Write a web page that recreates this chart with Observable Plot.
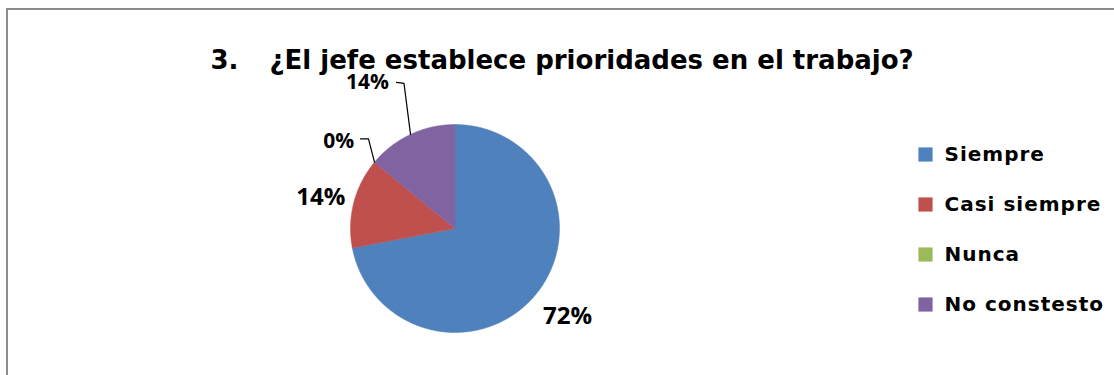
<!DOCTYPE html>
<html><head><meta charset="utf-8">
<script src="https://cdn.jsdelivr.net/npm/d3@7"></script>
<script src="https://cdn.jsdelivr.net/npm/@observablehq/plot@0.6"></script>
<style>
body{margin:0;background:#fff;}
#wrap{position:relative;width:1114px;height:375px;overflow:hidden;background:#fff;}
#border{position:absolute;left:6px;top:8px;width:1300px;height:600px;border-left:2px solid #8c8c8c;border-top:2px solid #8c8c8c;pointer-events:none;}
#wrap svg{position:absolute;left:0;top:0;}
</style></head><body><div id="wrap"><div id="border"></div></div>
<script>
const categories = ["Siempre", "Casi siempre", "Nunca", "No constesto"];
const percents = [72, 14, 0, 14];
const colors = ["#4F81BD", "#C0504D", "#9BBB59", "#8064A2"];
const labels = ["72%", "14%", "0%", "14%"];
const titleNumber = "3.";
const titleText = "¿El jefe establece prioridades en el trabajo?";

const total = d3.sum(percents);
let acc = 0;
const slices = categories.map((c, i) => {
  const a0 = acc / total * 2 * Math.PI; acc += percents[i];
  const a1 = acc / total * 2 * Math.PI;
  return {c, i, a0, a1, mid: (a0 + a1) / 2};
});
const edge = (a, r = 1) => ({x: r * Math.sin(a), y: r * Math.cos(a)});

const pts = [];
for (const s of slices) {
  if (s.a1 <= s.a0) continue;
  pts.push({c: s.c, x: 0, y: 0});
  const n = Math.max(2, Math.ceil((s.a1 - s.a0) / (Math.PI / 360)));
  for (let k = 0; k <= n; k++) {
    const a = s.a0 + (s.a1 - s.a0) * k / n;
    pts.push({c: s.c, ...edge(a)});
  }
  pts.push({c: s.c, x: 0, y: 0});
}

// label placement (layout, in chart units of radius)
const labelPos = [
  {x: 1.077, y: -0.842, size: 24},
  {x: -1.285, y: 0.297, size: 24},
  {x: -1.113, y: 0.842, size: 21},
  {x: -0.838, y: 1.405, size: 21}
];
const labelData = slices.map((s, i) => ({text: labels[i], ...labelPos[i]}));

// leader lines for the two labels placed away from the pie
const leaders = [];
{
  const e = edge(slices[2].mid);
  leaders.push({k: 0, x: -0.904, y: 0.861}, {k: 0, x: -0.828, y: 0.861}, {k: 0, ...e});
  const e2 = edge(slices[3].mid);
  leaders.push({k: 1, x: -0.560, y: 1.405}, {k: 1, x: -0.488, y: 1.395}, {k: 1, ...e2});
}

const marks = [
  Plot.line(pts, {x: "x", y: "y", z: "c", fill: "c", stroke: "c", strokeWidth: 0.5, curve: "linear"}),
  Plot.line(leaders, {x: "x", y: "y", z: "k", stroke: "#000", strokeWidth: 1.2}),
  ...labelData.map(d => Plot.text([d], {x: "x", y: "y", text: "text", fontSize: d.size, fontWeight: "bold", fill: "#000", fontFamily: "Open Sans", textAnchor: "middle", lineAnchor: "middle"})),
  Plot.text([titleNumber], {frameAnchor: "top-left", dx: 210, dy: 68, text: d => d, fontSize: 26, fontWeight: "bold", fontFamily: "DejaVu Sans", textAnchor: "start", lineAnchor: "bottom", fill: "#000"}),
  Plot.text([titleText], {frameAnchor: "top-left", dx: 269, dy: 68, text: d => d, fontSize: 26, fontWeight: "bold", fontFamily: "DejaVu Sans", textAnchor: "start", lineAnchor: "bottom", fill: "#000"})
];
categories.forEach((c, i) => {
  marks.push(Plot.dot([c], {frameAnchor: "top-left", dx: 925, dy: 154 + i * 50, symbol: "square", r: 8, fill: d => d, stroke: null}));
  marks.push(Plot.text([c], {frameAnchor: "top-left", dx: 944, dy: 154 + i * 50, text: d => d, fontSize: 20, fontWeight: "bold", fontFamily: "DejaVu Sans", textAnchor: "start", lineAnchor: "middle", fill: "#000"}));
});

const chart = Plot.plot({
  width: 1114, height: 375,
  margin: 0,
  x: {domain: [-1, 1], range: [350, 559], axis: null},
  y: {domain: [-1, 1], range: [332, 124], axis: null},
  color: {domain: categories, range: colors},
  style: {background: "transparent", overflow: "visible"},
  marks
});
chart.querySelectorAll("text").forEach(t => {
  if (categories.includes(t.textContent)) t.style.letterSpacing = "1px";
});
document.getElementById("wrap").appendChild(chart);
</script>
</body></html>
